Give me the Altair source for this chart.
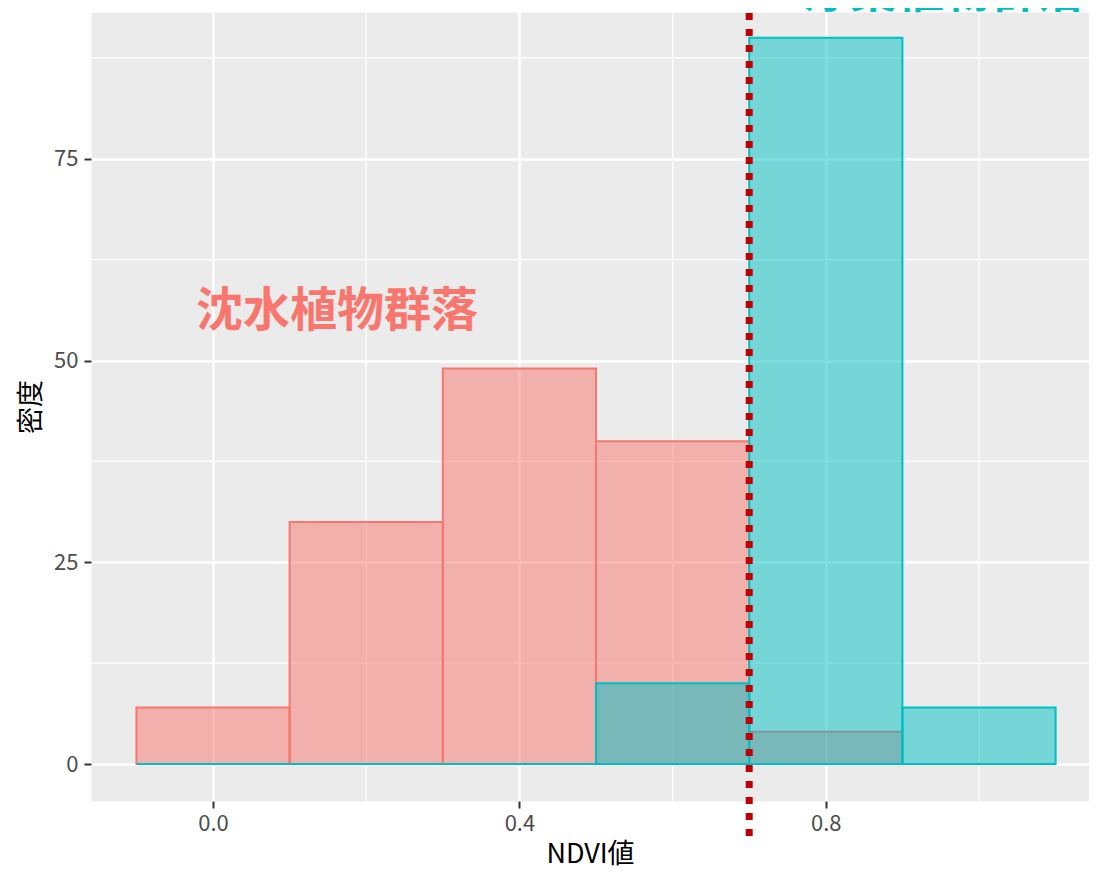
import altair as alt
import pandas as pd

# ---- data ----
bin_start = [-0.1, 0.1, 0.3, 0.5, 0.7, 0.9]
bin_end = [0.1, 0.3, 0.5, 0.7, 0.9, 1.1]
submerged_density = [7, 30, 49, 40, 4, 0]     # 沈水植物群落
floating_density = [0, 0, 0, 10, 90, 7]       # 浮葉植物群落

x_major = [0.0, 0.4, 0.8]
x_minor = [0.2, 0.6, 1.0]
y_major = [0, 25, 50, 75]
y_minor = [12.5, 37.5, 62.5, 87.5]

label_text = ["沈水植物群落", "浮葉植物群落"]
label_x = [0.162, 0.954]
label_y = [56.0, 95.5]
threshold = [0.7]

RED = "#F8766D"
CYAN = "#00BFC4"
FONT = "Noto Sans CJK JP"

XDOM = [-0.1593, 1.1436]
YDOM = [-4.58, 93.19]

xs = alt.Scale(domain=XDOM, nice=False, zero=False)
ys = alt.Scale(domain=YDOM, nice=False, zero=False)

df_sub = pd.DataFrame({"x0": bin_start, "x1": bin_end, "d": submerged_density})
df_flo = pd.DataFrame({"x0": bin_start, "x1": bin_end, "d": floating_density})

x_axis = alt.Axis(
    values=x_major, format=".1f", title="NDVI値", grid=True,
    gridColor="white", gridWidth=2.5, domain=False,
    tickColor="#333333", tickWidth=2, tickSize=7,
    labelColor="#4D4D4D", labelFontSize=22, labelPadding=5, labelFont=FONT,
    titleFont=FONT, titleFontSize=27, titleFontWeight="normal",
    titleColor="black", titlePadding=7,
)
y_axis = alt.Axis(
    values=y_major, title="密度", grid=True,
    gridColor="white", gridWidth=2.5, domain=False,
    tickColor="#333333", tickWidth=2, tickSize=7,
    labelColor="#4D4D4D", labelFontSize=22, labelPadding=6, labelFont=FONT,
    titleFont=FONT, titleFontSize=27, titleFontWeight="normal",
    titleColor="black", titlePadding=8,
)

minor_x = alt.Chart(pd.DataFrame({"v": x_minor})).mark_rule(
    color="white", strokeWidth=1.2
).encode(
    x=alt.X("v:Q", scale=xs, axis=x_axis),
    y=alt.datum(YDOM[0], scale=ys),
    y2=alt.datum(YDOM[1]),
)
minor_y = alt.Chart(pd.DataFrame({"v": y_minor})).mark_rule(
    color="white", strokeWidth=1.2
).encode(
    y=alt.Y("v:Q", scale=ys, axis=y_axis),
    x=alt.datum(XDOM[0], scale=xs),
    x2=alt.datum(XDOM[1]),
)

bars_sub = alt.Chart(df_sub).mark_rect(
    fill=RED, fillOpacity=0.5, stroke=RED, strokeWidth=2
).encode(
    x=alt.X("x0:Q", scale=xs), x2="x1:Q",
    y=alt.Y("d:Q", scale=ys), y2=alt.datum(0),
)
bars_flo = alt.Chart(df_flo).mark_rect(
    fill=CYAN, fillOpacity=0.5, stroke=CYAN, strokeWidth=2
).encode(
    x=alt.X("x0:Q", scale=xs), x2="x1:Q",
    y=alt.Y("d:Q", scale=ys), y2=alt.datum(0),
)

vline = alt.Chart(pd.DataFrame({"t": threshold})).mark_rule(
    color="#C00000", strokeWidth=7, strokeDash=[7, 9]
).encode(
    x=alt.X("t:Q", scale=xs),
    y=alt.datum(-8.92, scale=ys),
    y2=alt.datum(100),
)

lab_df = pd.DataFrame({"text": label_text, "x": label_x, "y": label_y,
                       "c": [RED, CYAN]})
labels = alt.Chart(lab_df).mark_text(
    font=FONT, fontSize=47, fontWeight="bold", align="center", baseline="middle"
).encode(
    x=alt.X("x:Q", scale=xs),
    y=alt.Y("y:Q", scale=ys),
    text="text:N",
    color=alt.Color("c:N", scale=None),
)

chart = alt.layer(minor_x, minor_y, bars_sub, bars_flo, vline, labels).properties(
    width=998, height=789,
    autosize=alt.AutoSizeParams(type="none"),
    padding={"left": 83, "top": 4, "right": 0, "bottom": 70},
).configure(
    background="white"
).configure_view(
    fill="#EBEBEB", stroke="transparent"
)

chart.save("out.html", embed_options={"renderer": "svg", "actions": False})
